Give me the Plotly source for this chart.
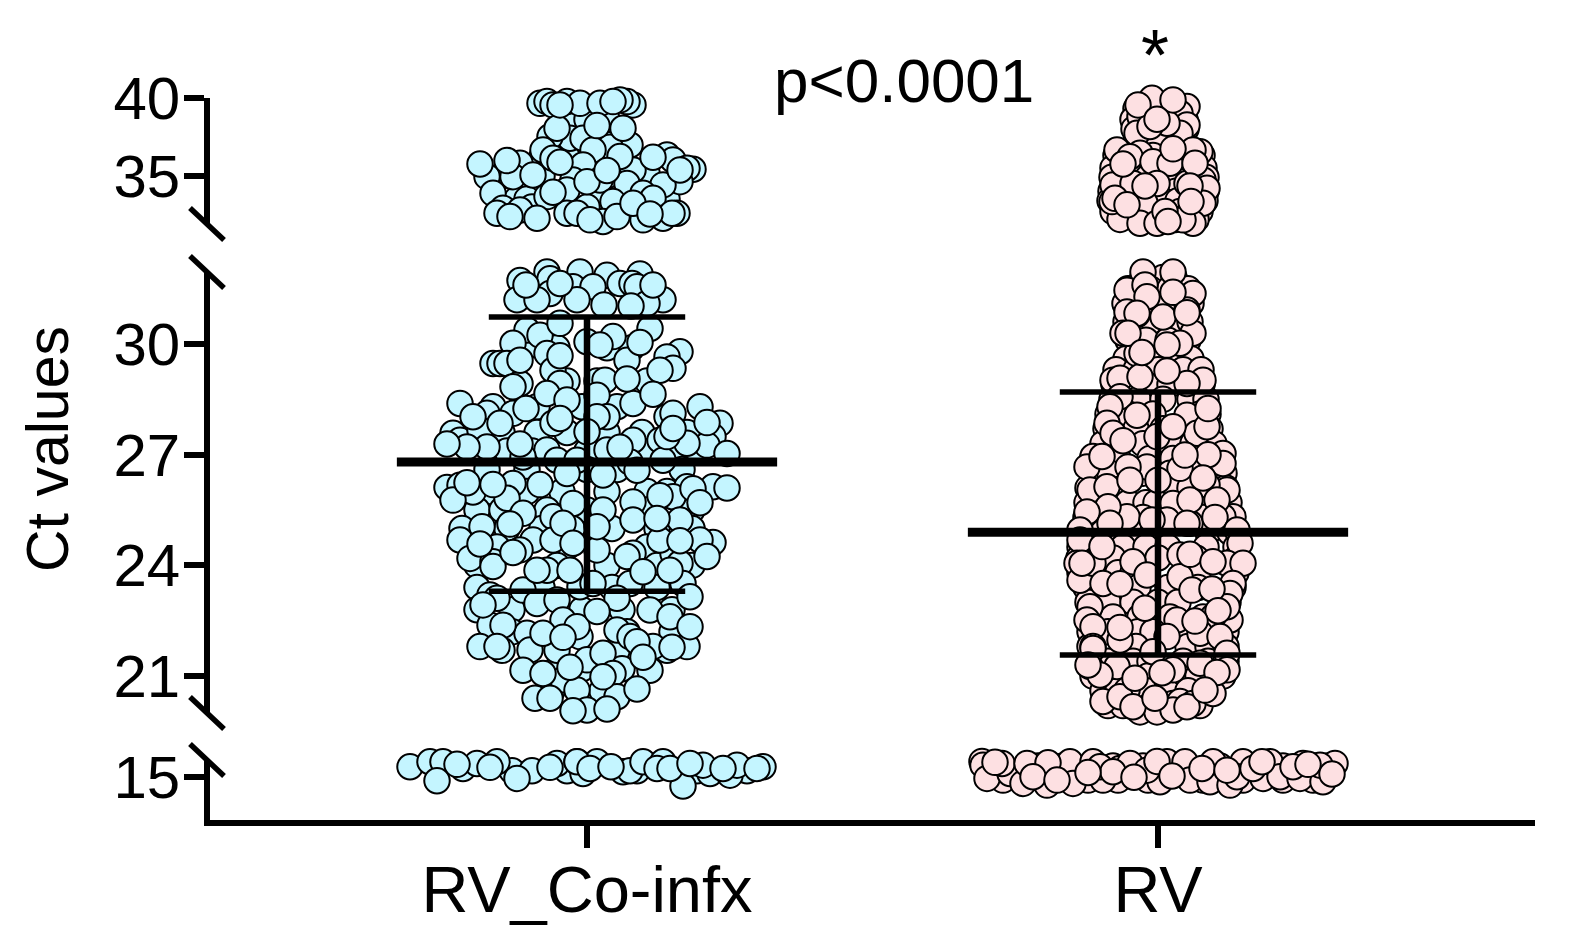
import plotly.graph_objects as go

# Readings are (swarm offset from the group's centre, Ct value); later points sit on top.
categories = ["RV_Co-infx", "RV"]
y_title = "Ct values"
annotation_p = "p<0.0001"
annotation_star = "*"

# Densely packed points underneath the clearly visible ones, read row by row: (Ct, offsets)
coinfx_top_under = [(38.6,[-20,0,20]),(37.0,[20]),(36.2,[-45,-20]),(35.0,[-85,-45,20]),(34.5,[-60,60]),(33.5,[-70,-60,10,80]),(33.0,[-55,0,40])]
coinfx_mid_under = [(29.9,[-62,-30,20,45]),(29.0,[-20,10,60]),(28.3,[-50,-5,30]),(27.6,[-85,-50,-20,20,55,100]),(27.1,[-80,-55,0,55,95,110]),(26.6,[-100,-60,0,30,95]),(26.0,[-95,-60,-25,20,60,80]),(25.5,[-110,-85,-40,0,60,105]),(25.0,[-125,-80,-45,-15,25,70,105]),(24.5,[-90,-20,60]),(24.0,[-110,-30,20,70,105]),(23.4,[-110,-45,25,70]),(22.8,[-110,-75,-5,35,85]),(22.2,[-75,40,85]),(21.7,[-85,30,80]),(21.2,[-30,-5,35]),(20.6,[-35,15])]
coinfx_low_under = [(15.4,[-75,-55,-20,50,110,160])]
rv_top_under = [(39.3,[-22,0,22]),(38.6,[-25,-8,12,27]),(38.0,[-24,10,28]),(37.2,[-22,0,25]),(36.3,[-42,-5,20,44]),(35.5,[-45,-18,8,46]),(34.9,[-46,-10,15,48]),(34.0,[-47,-30,-5,18,48]),(33.4,[-48,-25,5,20,47]),(32.7,[-45,-28,-8,22,42]),(32.2,[-38,-15,18,38])]
rv_mid_under = [(31.8,[-15,5,16]),(31.5,[-30,-8,12,30]),(31.1,[-33,-15,8,33]),(30.6,[-32,-8,14,32]),(30.1,[-30,-12,10,30]),(29.6,[-32,-2,18,33]),(29.3,[-42,-22,0,25,43]),(28.9,[-44,-12,12,44]),(28.5,[-46,-20,5,32,48]),(28.1,[-50,-30,-5,42,50]),(27.7,[-52,-22,5,28,52]),(27.3,[-55,-15,12,35,56]),(26.9,[-65,-40,-8,15,64]),(26.5,[-66,-48,-15,12,35,66]),(26.1,[-70,-35,15,32,68]),(25.7,[-71,-30,-12,-2,40,71]),(25.3,[-72,-52,-15,45,72]),(24.9,[-74,-55,-25,-5,50,72]),(24.5,[-78,-35,-12,10,48,78]),(24.2,[-79,-45,0,38,79]),(23.8,[-78,-40,-25,40,78]),(23.4,[-72,-20,10,40,75]),(23.0,[-70,-50,-25,0,20,70]),(22.6,[-68,-45,-18,12,45,70]),(22.2,[-68,-50,-20,-5,25,68]),(21.8,[-68,-22,30,50,68]),(21.4,[-68,-50,-25,-8,25,50,68]),(21.0,[-65,-45,-10,20,40,65]),(20.6,[-55,-40,-12,8,30,52]),(20.2,[-50,-35,-8,8,42]),(19.95,[-22,0,18])]
rv_low_under = [(15.7,[-165,-120,-95,-45,-15,20,62,90,125,155,170]),(15.2,[-160,-135,-110,-80,-30,20,60,90,130,160]),(14.8,[-155,-115,-70,-40,-10,45,85,125,155])]

coinfx_top = [(-47,39.64),(-40,39.75),(-34,39.54),(-20,39.75),(-7,39.64),(13,39.64),(46,39.54),(40,39.75),(33,39.86),
(-17,37.4),(-37,37.5),(-4,37.4),(43,36.97),(-44,36.65),(23,36.82),(6,36.65),(-30,38.04),(10,38.21),(36,38.04),(-27,39.54),(26,39.75),
(80,36.33),(86,36.01),(106,35.41),(100,35.48),(60,35.16),(46,35.37),(33,36.23),(-4,35.69),(-34,36.12),(-67,35.8),(-100,34.94),(93,34.62),(76,34.41),(40,34.5),(13,34.73),(-14,34.73),(-74,34.94),(-94,33.87),(-20,34.09),(56,33.87),(66,33.55),(26,33.34),(-40,33.66),(-84,32.91),(-90,32.59),(-67,32.8),(-24,31.84),(16,32.06),(30,32.38),(56,32.17),(76,32.27),(90,32.59),(-20,32.59),(-10,32.59),
(-50,32.27),(-77,32.38),(3,32.17),(46,33.23),(85,32.59),(63,32.55),(-34,33.94),(0,34.62),(-54,35.05),(20,35.33),(-107,35.75),(-80,35.97),(-27,35.86),(66,36.18),(93,35.37)]

coinfx_mid = [(-67,31.72),(-40,31.95),(-7,31.95),(20,31.86),(53,31.9),(-37,31.77),(-14,31.55),(-37,31.37),(6,31.55),(33,31.64),(45,31.64),(50,31.55),(-70,31.2),(76,31.2),(-50,31.2),(-10,31.2),(60,31.1),(-61,31.6),(-27,31.64),(66,31.6),(17,31.06),(44,31.03),
(-60,30.38),(-74,30.02),(-47,30.24),(-27,30.56),(63,30.42),(26,30.2),(0,30.06),(93,29.79),(80,29.65),(86,29.34),(-94,29.47),(-87,29.47),(-80,29.47),(-40,29.74),(40,29.56),(-34,29.29),(18,29.02),(-67,28.93),(-27,28.93),(-40,28.66),(10,28.61),(-94,28.3),(-100,28.12),(80,28.03),(86,28.12),(113,28.3),(133,27.85),(20,28.03),(46,28.39),(-34,27.85),(10,28.03),(-134,27.58),(-127,27.39),(-107,27.67),(-100,27.21),(-74,28.12),(46,27.39),(126,27.49),(120,27.26),(100,27.31),(73,27.39),(140,27.03),(-120,27.21),(-40,27.13),(-30,26.85),(-10,26.85),(20,27.13),(43,26.8),(-64,26.94),(76,26.85),
(50,26.58),(16,26.45),(-74,26.22),(-140,26.11),(-127,26.17),(-114,25.99),(-134,25.77),(100,26.13),(126,26.13),(-20,26.49),(-80,25.82),(-64,25.41),(86,25.86),(46,25.72),(16,25.5),(-34,25.32),(-14,25.68),(93,25.23),(46,25.23),(-105,25.05),
(-127,24.69),(-117,24.19),(-94,24.1),(-94,23.97),(-54,24.69),(-67,24.42),(-34,24.69),(10,24.42),(46,24.33),(86,24.33),(126,24.62),(113,24.69),(73,24.69),(93,24.06),(-40,23.87),(-64,23.33),(-7,23.42),(43,23.51),(96,23.51),(6,23.51),(-97,23.2),(-90,23.11),(-50,22.97),(30,23.11),(-30,23.06),(63,22.79),(-24,22.52),(-97,22.38),(-60,22.16),(30,22.25),(43,22.07),(-107,21.8),(-57,21.71),(66,21.8),(100,21.8),(-7,22.07),(-30,21.7),(0,21.44),(16,21.62),(-64,21.16),(63,21.16),(-24,20.9),(26,21.07),(-10,20.62),(-52,20.4),(0,20.08),(30,20.44),
(-127,28.39),(-114,28.03),(-87,27.85),(-140,27.29),(-67,27.29),(-74,28.84),(-67,29.56),(-27,29.68),(13,29.97),(53,30.04),(73,29.29),(40,29.05),(66,28.64),(-20,28.48),(-61,28.25),(-27,27.98),(0,27.62),(80,27.49),(120,27.87),(33,27.2),(86,27.71),(-120,26.24),(-94,26.19),(-47,26.19),(140,26.1),(106,26.08),(113,25.7),(73,25.89),(-77,25.12),(-24,25.14),(70,25.27),(10,25.05),
(-107,24.58),(-74,24.35),(-50,23.87),(-17,23.87),(-14,24.6),(40,24.24),(56,23.83),(83,23.87),(93,24.67),(120,24.24),(103,23.15),(-104,22.93),(-84,22.38),(-44,22.16),(-10,22.34),(10,22.75),(83,22.61),(103,22.34),(85,21.78),(-90,21.8),(-24,22.05),(50,21.93),(56,21.51),(-44,21.07),(-17,21.24),(16,20.98),(50,20.65),(-37,20.4),(-14,20.06),(20,20.11)]

coinfx_low = [(-177,15.66),(-157,15.98),(-144,15.98),(-150,14.76),(-124,15.55),(-110,15.87),(-90,15.98),(-77,16.09),(-70,14.91),(-30,15.87),(-10,15.98),(-4,15.23),(10,15.98),(36,15.34),(43,15.4),(56,15.98),(76,15.98),(70,15.55),(96,14.42),(123,15.23),(143,15.12),(150,15.76),(176,15.66),(116,15.76),
(-170,16.09),(-130,15.81),(-97,15.62),(-58,16.09),(-37,15.62),(-10,15.98),(3,15.55),(24,15.66),(83,15.55),(103,15.87),(136,15.55),(170,15.55)]

rv_top = [(-6,39.96),(29,39.43),(22,39.0),(-18,38.79),(29,38.25),(-21,37.72),(22,37.72),(9,38.36),(-8,38.15),
(-41,36.65),(-18,36.44),(-28,36.22),(-5,35.9),(12,35.8),(42,36.54),(35,36.65),(45,34.73),(-45,34.41),(-25,34.5),(-1,34.5),(49,34.19),(29,34.5),(-46,33.34),(-13,33.23),(45,33.23),(-43,33.55),(-35,31.84),(-18,31.95),(-1,31.95),(35,31.95),(25,32.17),(7,32.7),
(-20,39.54),(15,39.86),(-1,38.62),(15,36.72),(-35,35.75),(37,35.8),(-13,34.34),(32,34.34),(-31,33.13),(33,33.34),(10,32.06)]

rv_mid = [(-15,31.95),(2,31.99),(15,31.95),(22,31.99),(-31,31.46),(35,31.37),(-21,30.8),(5,30.73),(29,30.92),(-13,31.6),(-11,31.28),(15,31.4),
(-31,30.87),(-21,30.83),(-35,30.29),(35,30.29),(22,30.02),(-21,29.74),(-45,29.02),(-38,29.07),(45,29.02),(-18,29.11),(29,28.93),(-38,28.57),(-48,28.3),(-51,27.85),(-45,27.58),(29,28.07),(39,27.58),(49,27.76),(-1,27.49),(-65,26.95),(-71,26.67),(65,27.03),(65,26.76),(50,27.0),(-68,26.04),(-51,26.13),(69,26.04),(49,26.18),(22,26.63),(-11,26.67),(-30,26.67),(75,25.32),(65,25.32),(15,25.68),(-31,25.32),(32,25.14),(9,25.23),(-6,25.23),(59,25.77),(32,25.77),
(29,30.85),(-30,30.29),(-16,29.77),(9,29.97),(9,29.27),(-21,28.07),(50,28.25),(15,27.76),(-35,27.38),(-56,26.95),(27,26.99),(-28,26.31),(0,26.31),(45,26.37),(-50,25.59),(57,25.3),(-71,25.45),
(-78,24.96),(79,24.96),(-48,25.14),(29,25.14),(-78,24.69),(82,24.6),(-81,24.06),(69,24.06),(85,24.06),(-78,23.6),(75,23.51),(-65,24.06),(-25,24.1),(-11,23.74),(22,24.28),(22,23.69),(-55,23.51),(72,23.24),(-68,22.88),(-71,22.52),(-65,22.34),(72,22.52),(69,22.88),(34,23.33),(55,22.61),(19,22.52),(9,22.07),(42,22.16),(62,22.07),(-38,21.98),(-65,21.8),(69,21.62),(-41,21.26),(-68,21.26),(42,21.35),(15,21.17),(-5,21.66),(69,21.17),(-31,20.62),(-55,20.31),(-38,20.44),(15,20.26),(22,20.31),(35,20.26),(-18,20.03),(-1,20.03),(15,20.08),(29,20.17),(-25,20.17),(-58,21.03),(55,20.53),
(-56,24.51),(32,24.3),(55,24.1),(-76,24.06),(-38,23.5),(54,23.36),(-13,22.84),(60,22.77),(37,22.49),(-38,22.32),(-65,21.75),(-70,21.3),(-23,20.94),(4,21.09),(59,21.1),(47,20.62),(-3,20.4)]

rv_low = [(-176,16.0),(-175,15.76),(-171,14.91),(-148,15.23),(-156,15.87),(-135,14.59),(-131,15.87),(-111,14.48),(-98,15.02),(-88,15.98),(-85,14.59),(-65,15.98),(-55,14.8),(-58,15.66),(-38,15.55),(-28,15.87),(2,14.7),(9,15.98),(27,15.98),(32,14.8),(52,14.7),(55,15.98),(72,14.48),(85,15.98),(79,15.02),(105,14.91),(112,15.98),(122,15.02),(145,15.87),(142,14.91),(165,14.7),(177,15.87),(162,15.76),(-45,15.34),(-11,15.44),(95,15.55),(135,15.66),
(-163,15.94),(-110,15.91),(-125,15.02),(-101,14.8),(-70,15.29),(-1,16.0),(-24,14.98),(14,15.06),(44,15.55),(69,15.44),(104,15.98),(150,15.81),(174,15.19)]

mean_ct = [26.8, 24.9]
sd_upper = [30.73, 28.7]
sd_lower = [23.3, 21.57]

W, H = 1571, 940
BLUE, PINK = "#C4F5FF", "#FDE0E2"
OFFSET_UNIT = 1 / 571
FONT = "Liberation Sans"
FS = 60
XL, XR = 210, 1535
xrange = [1 - (587 - XL) / 571, 2 + (XR - 1158) / 571]


def py(p):
    return (H - p) / H


def expand(rows):
    return [(o, ct) for ct, offs in rows for o in offs]


def scatter(points, center, color, axis):
    return go.Scatter(
        x=[center + a * OFFSET_UNIT for a, _ in points],
        y=[b for _, b in points],
        yaxis=axis, xaxis="x", mode="markers", cliponaxis=False, showlegend=False,
        marker=dict(size=25.5, color=color, line=dict(color="black", width=2)),
    )


def line(xs, ys, w):
    return go.Scatter(x=xs, y=ys, yaxis="y2", xaxis="x", mode="lines", cliponaxis=False,
                      showlegend=False, line=dict(color="black", width=w))


fig = go.Figure()
groups = [
    (1, BLUE, ((coinfx_top_under, coinfx_top), (coinfx_mid_under, coinfx_mid), (coinfx_low_under, coinfx_low))),
    (2, PINK, ((rv_top_under, rv_top), (rv_mid_under, rv_mid), (rv_low_under, rv_low))),
]
for center, color, segs in groups:
    for (under, seg), axis in zip(segs, ("y", "y2", "y3")):
        fig.add_trace(scatter(expand(under) + seg, center, color, axis))

for i, c in enumerate((1, 2)):
    fig.add_trace(line([c, c], [sd_lower[i], sd_upper[i]], 6.5))
    fig.add_trace(line([c - 0.172, c + 0.172], [sd_upper[i], sd_upper[i]], 5.5))
    fig.add_trace(line([c - 0.172, c + 0.172], [sd_lower[i], sd_lower[i]], 5.5))
    fig.add_trace(line([c - 0.333, c + 0.333], [mean_ct[i], mean_ct[i]], 9))

yax = dict(showgrid=False, zeroline=False, showline=True, linecolor="black", linewidth=5.5, automargin=False,
           ticks="outside", ticklen=20, tickwidth=5.5, tickcolor="black", anchor="x", ticklabelstandoff=-8,
           tickfont=dict(family=FONT, size=FS, color="black"))

slashes = [224, 272, 713, 760]
shapes = [dict(type="line", xref="paper", yref="paper", layer="above",
               x0=(207 - 17) / W, x1=(207 + 17) / W,
               y0=py(s - 16), y1=py(s + 16), line=dict(color="black", width=5.5)) for s in slashes]


def note(text, x, y, size, angle=0):
    return dict(text=text, xref="paper", yref="paper", x=x / W, y=py(y), textangle=angle,
                xanchor="center", yanchor="middle", showarrow=False,
                font=dict(family=FONT, size=size, color="black"))


fig.update_layout(
    width=W, height=H, margin=dict(l=0, r=0, t=0, b=0), paper_bgcolor="white", plot_bgcolor="white",
    showlegend=False, shapes=shapes,
    xaxis=dict(domain=[XL / W, XR / W], range=xrange, anchor="y3", showgrid=False, zeroline=False, automargin=False,
               showline=True, linecolor="black", linewidth=5.5, ticks="outside", ticklen=22, tickwidth=5.5,
               tickcolor="black", tickvals=[1, 2], ticktext=categories, ticklabelstandoff=-14,
               tickfont=dict(family=FONT, size=65, color="black")),
    yaxis=dict(domain=[py(224), py(97.7)], range=[35 - (224 - 175.7) / 15.6, 40], tickvals=[35, 40], **yax),
    yaxis2=dict(domain=[py(713), py(272)], range=[30 - (713 - 344) / 36.9, 30 + (344 - 272) / 36.9],
                tickvals=[21, 24, 27, 30], **yax),
    yaxis3=dict(domain=[py(820), py(760)], range=[15 - (820 - 777) / 15.6, 15 + (777 - 760) / 15.6],
                tickvals=[15], **yax),
    annotations=[
        note(y_title, 48, 449, 59, -90),
        note(annotation_p, 904, 80, 62),
        note(annotation_star, 1155, 55, 72),
    ],
)
fig.write_html("out.html", config=dict(displayModeBar=False),
               post_script="document.body.style.margin='0';document.body.style.overflow='hidden';")
